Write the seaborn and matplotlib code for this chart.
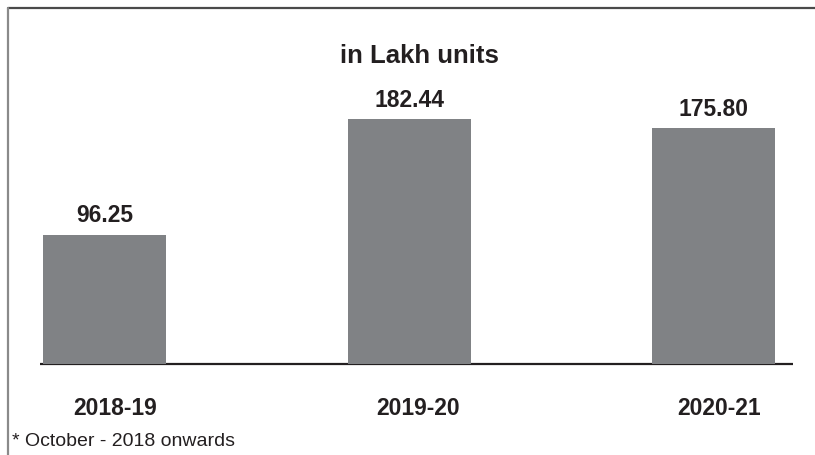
import matplotlib
matplotlib.use("Agg")
import matplotlib.pyplot as plt
from matplotlib.lines import Line2D
from matplotlib.transforms import ScaledTranslation
import seaborn as sns

years = ["2018-19", "2019-20", "2020-21"]
units = [96.25, 182.44, 175.80]
labels = ["96.25", "182.44", "175.80"]

sns.set_style("white")
plt.rcParams["font.family"] = ["Liberation Sans", "DejaVu Sans"]

W, H = 815, 456
fig = plt.figure(figsize=(W / 100, H / 100), dpi=100)
ax = fig.add_axes([40 / W, 88 / H, 753 / W, 348 / H])

sns.barplot(x=years, y=units, width=0.404, color="#808285", saturation=1,
            linewidth=0, ax=ax, zorder=3)
ax.axhline(0, color="#231f20", lw=1.6, zorder=2)
ax.set_xlim(-0.212, 2.261)
ax.set_ylim(-2.2, 256.9)

for c in ax.containers:
    ax.bar_label(c, labels=labels, padding=6, fontsize=16.5, fontweight="bold", color="#231f20")

for s in ax.spines.values():
    s.set_visible(False)
ax.set_yticks([])
ax.tick_params(axis="x", length=0, pad=21)
ax.set_xticks(range(len(years)))
ax.set_xticklabels(years, fontsize=16.5, fontweight="bold", color="#231f20")
ax.set_xlabel("")
ax.set_ylabel("")

# year labels sit a little right of the bar centres in the original
for lbl, dx in zip(ax.get_xticklabels(), [11, 9, 6]):
    lbl.set_transform(lbl.get_transform() + ScaledTranslation(dx / 100, 0, fig.dpi_scale_trans))

fig.text(419 / W, 1 - 56 / H, "in Lakh units", ha="center", va="center",
         fontsize=18.5, fontweight="bold", color="#231f20")
fig.text(12 / W, 1 - 442 / H, "* October - 2018 onwards", ha="left", va="center",
         fontsize=14, color="#231f20")

# frame around the panel
fig.add_artist(Line2D([8 / W, 1], [1 - 9 / H, 1 - 9 / H], color="#4a4a4a", lw=1.6))
fig.add_artist(Line2D([8 / W, 8 / W], [0, 1 - 9 / H], color="#8a8a8a", lw=1.6))

fig.savefig("out.png", dpi=100)
